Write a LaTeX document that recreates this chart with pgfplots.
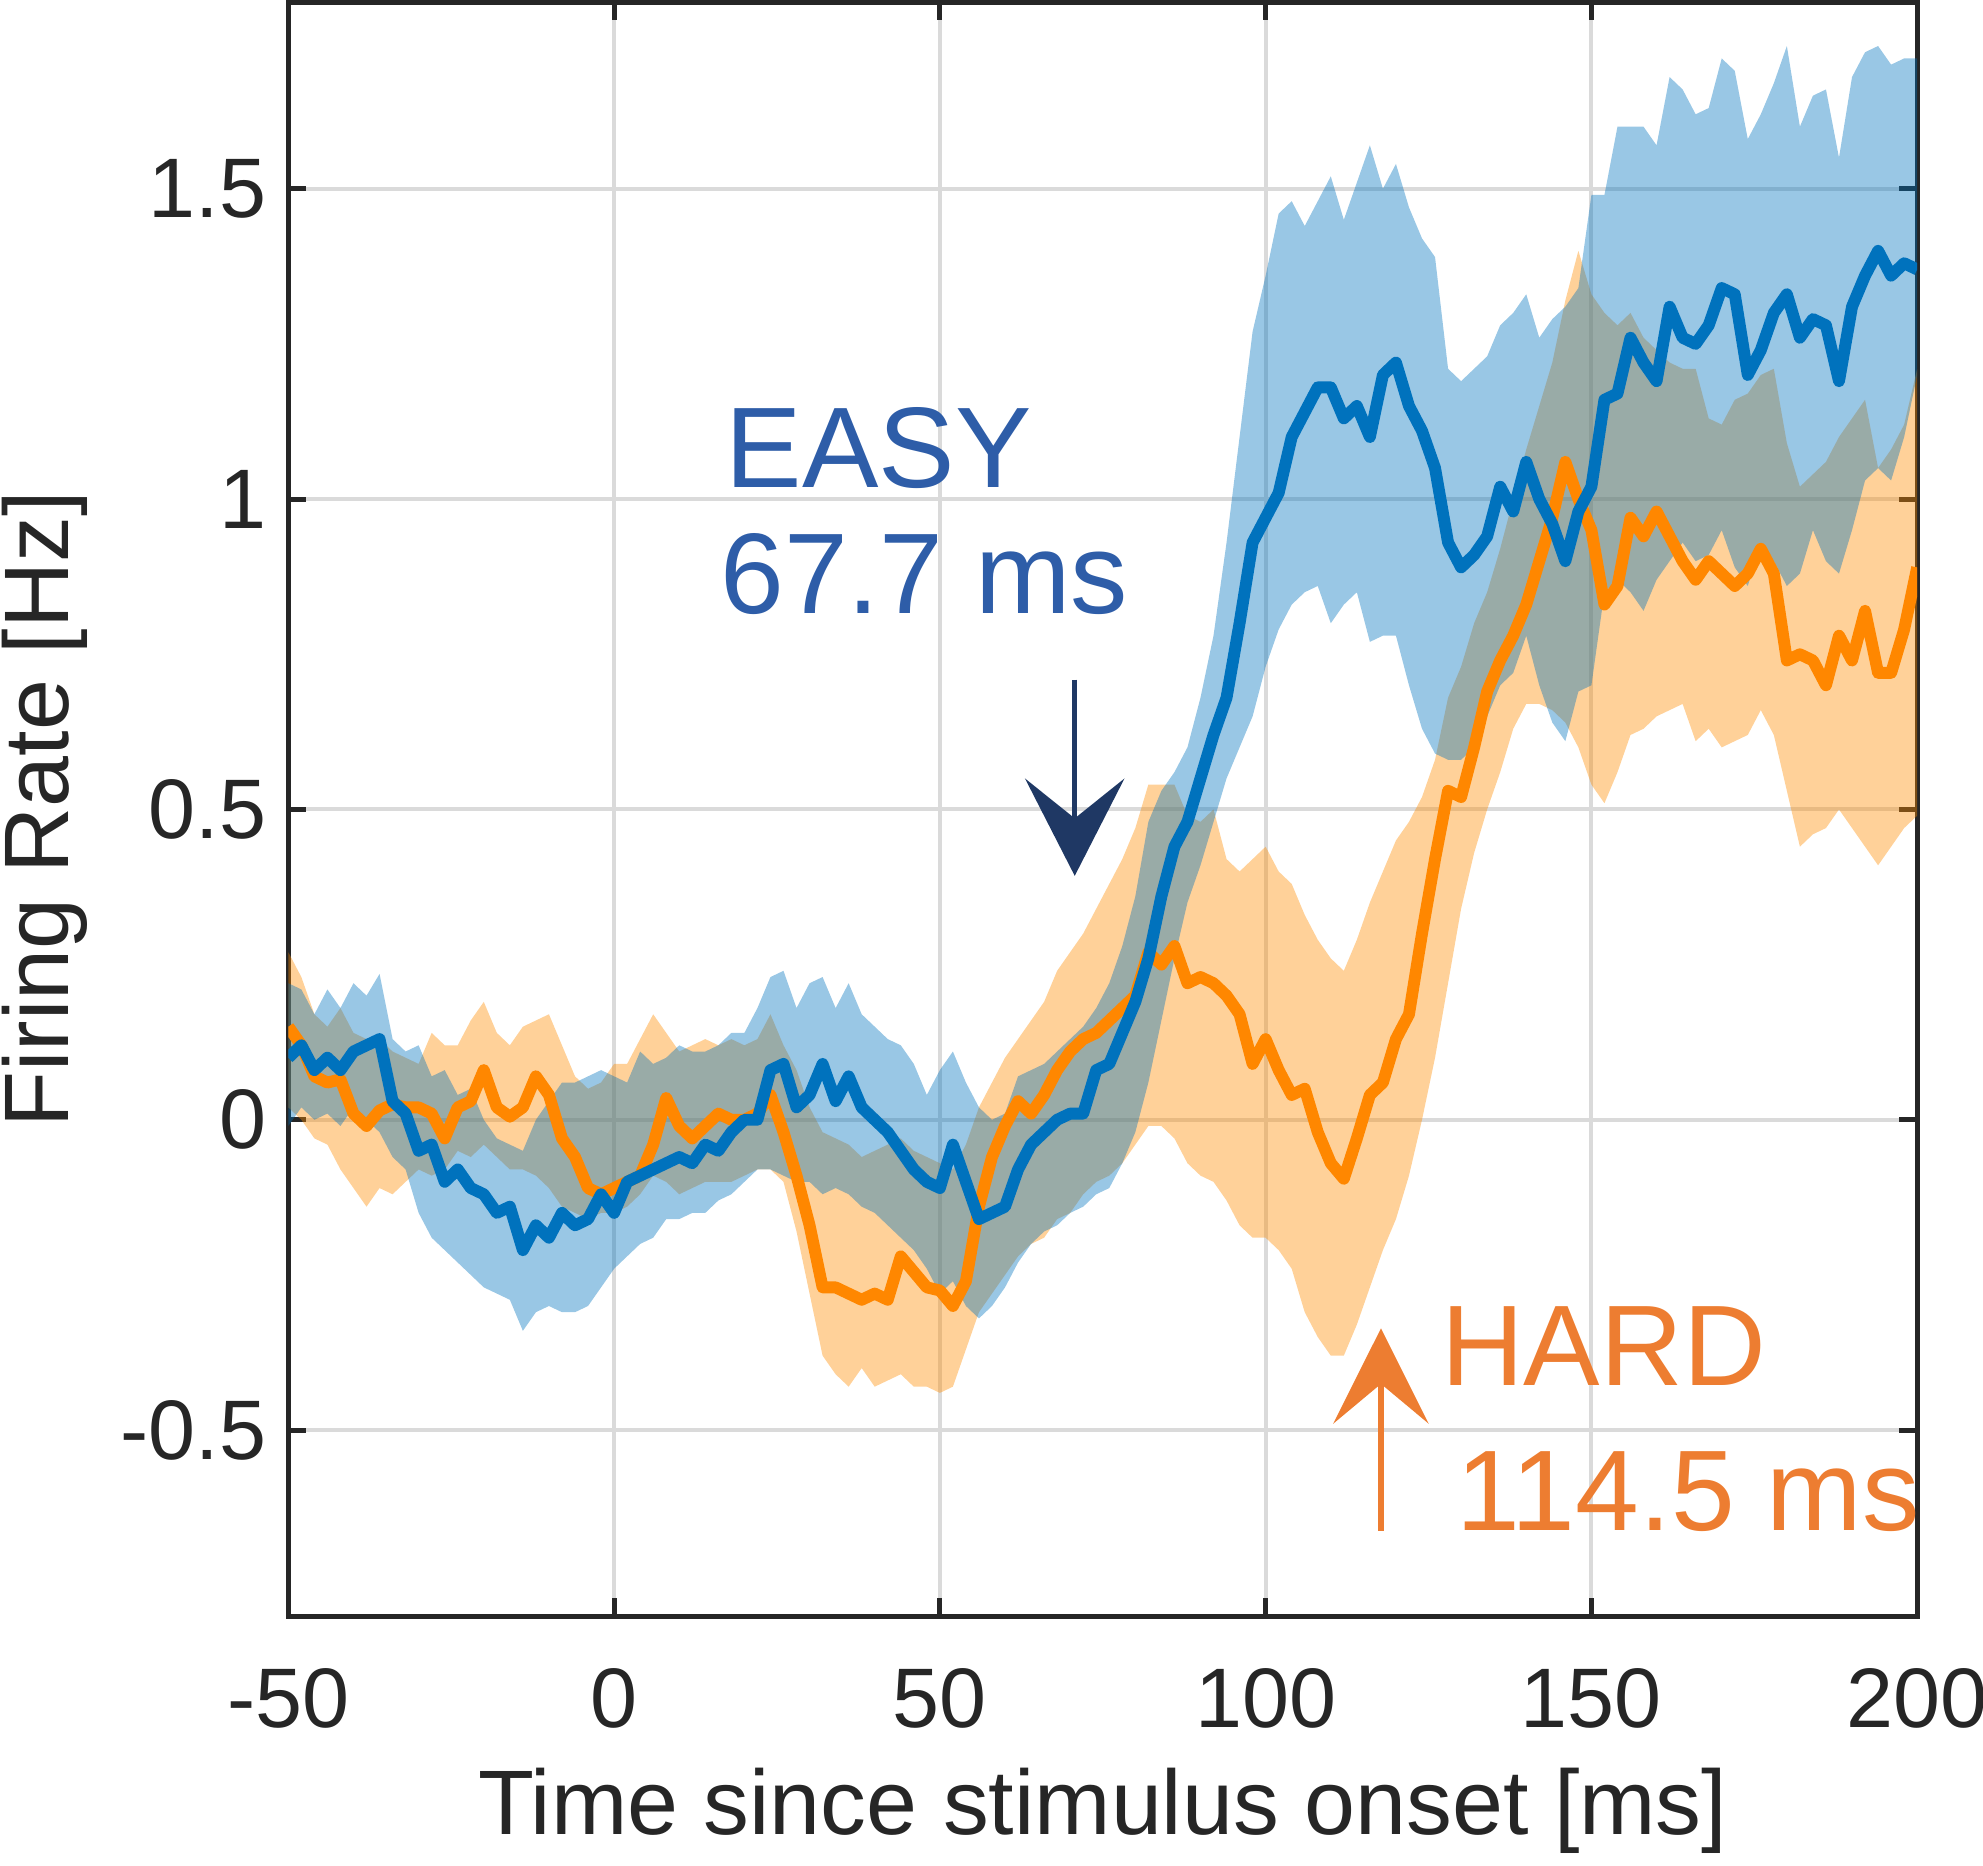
\documentclass[border=0pt]{standalone}
\usepackage{fontspec}
\setmainfont{Liberation Sans}
\usepackage{pgfplots}
\pgfplotsset{compat=1.18}
\usepackage{pgfplotstable}
\usepgfplotslibrary{fillbetween}
\usetikzlibrary{arrows.meta}
\definecolor{bline}{RGB}{0,114,189}
\definecolor{oline}{RGB}{255,135,0}
\definecolor{bfill}{RGB}{0,114,189}
\definecolor{ofill}{RGB}{255,140,0}
\definecolor{axgray}{RGB}{38,38,38}
\definecolor{gridgray}{RGB}{218,218,218}
\definecolor{easyblue}{RGB}{46,93,168}
\definecolor{navy}{RGB}{31,56,100}
\definecolor{hardorange}{RGB}{237,125,49}

\pgfplotstableread{
x bm bu bl om ou ol
-50 0.10 0.22 -0.01 0.15 0.27 0.02
-48 0.12 0.21 0.02 0.12 0.23 0.00
-46 0.08 0.17 0.00 0.07 0.17 -0.03
-44 0.10 0.21 0.01 0.06 0.15 -0.04
-42 0.08 0.18 -0.01 0.065 0.18 -0.08
-40 0.11 0.22 0.02 0.01 0.14 -0.11
-38 0.12 0.20 0.00 -0.01 0.13 -0.14
-36 0.13 0.235 -0.02 0.015 0.13 -0.11
-34 0.03 0.13 -0.06 0.025 0.11 -0.12
-32 0.01 0.11 -0.08 0.02 0.10 -0.10
-30 -0.05 0.12 -0.15 0.02 0.09 -0.08
-28 -0.04 0.07 -0.19 0.01 0.14 -0.09
-26 -0.10 0.08 -0.21 -0.03 0.12 -0.08
-24 -0.08 0.04 -0.23 0.02 0.12 -0.05
-22 -0.11 0.05 -0.25 0.03 0.16 -0.06
-20 -0.12 0.00 -0.27 0.08 0.19 -0.04
-18 -0.15 -0.03 -0.28 0.02 0.14 -0.06
-16 -0.14 -0.04 -0.29 0.005 0.12 -0.08
-14 -0.21 -0.05 -0.34 0.02 0.15 -0.08
-12 -0.17 0.00 -0.31 0.07 0.16 -0.09
-10 -0.19 0.03 -0.30 0.04 0.17 -0.11
-8 -0.15 0.06 -0.31 -0.03 0.12 -0.14
-6 -0.17 0.06 -0.31 -0.06 0.07 -0.15
-4 -0.16 0.07 -0.30 -0.11 0.05 -0.16
-2 -0.12 0.08 -0.27 -0.12 0.06 -0.15
0 -0.15 0.07 -0.24 -0.11 0.09 -0.15
2 -0.10 0.06 -0.22 -0.10 0.09 -0.14
4 -0.09 0.11 -0.20 -0.09 0.13 -0.12
6 -0.08 0.09 -0.19 -0.04 0.17 -0.09
8 -0.07 0.10 -0.16 0.035 0.14 -0.10
10 -0.06 0.12 -0.16 -0.01 0.11 -0.12
12 -0.07 0.11 -0.15 -0.03 0.12 -0.11
14 -0.04 0.11 -0.15 -0.01 0.13 -0.10
16 -0.05 0.12 -0.13 0.01 0.12 -0.10
18 -0.02 0.14 -0.12 0.00 0.13 -0.10
20 0.00 0.14 -0.10 0.00 0.12 -0.09
22 0.00 0.18 -0.08 0.01 0.13 -0.08
24 0.08 0.23 -0.08 0.04 0.17 -0.08
26 0.09 0.24 -0.09 -0.02 0.12 -0.10
28 0.02 0.18 -0.10 -0.09 0.08 -0.18
30 0.04 0.22 -0.10 -0.17 0.02 -0.28
32 0.09 0.23 -0.12 -0.27 -0.02 -0.38
34 0.03 0.18 -0.11 -0.27 -0.03 -0.41
36 0.07 0.22 -0.12 -0.28 -0.04 -0.43
38 0.02 0.17 -0.14 -0.29 -0.06 -0.40
40 0.00 0.15 -0.15 -0.28 -0.05 -0.43
42 -0.02 0.13 -0.17 -0.29 -0.04 -0.42
44 -0.05 0.12 -0.19 -0.22 -0.03 -0.41
46 -0.08 0.09 -0.21 -0.245 -0.05 -0.43
48 -0.10 0.04 -0.24 -0.27 -0.06 -0.43
50 -0.11 0.08 -0.28 -0.275 -0.07 -0.44
52 -0.04 0.11 -0.26 -0.30 -0.08 -0.43
54 -0.10 0.06 -0.30 -0.26 -0.04 -0.37
56 -0.16 0.02 -0.32 -0.14 0.02 -0.31
58 -0.15 0.00 -0.30 -0.06 0.06 -0.28
60 -0.14 0.01 -0.27 -0.01 0.10 -0.25
62 -0.08 0.07 -0.23 0.03 0.13 -0.22
64 -0.04 0.08 -0.20 0.01 0.16 -0.20
66 -0.02 0.09 -0.18 0.04 0.19 -0.19
68 0.00 0.11 -0.17 0.08 0.24 -0.16
70 0.01 0.13 -0.15 0.11 0.27 -0.15
72 0.01 0.15 -0.14 0.13 0.30 -0.12
74 0.08 0.18 -0.12 0.14 0.34 -0.10
76 0.09 0.22 -0.11 0.16 0.38 -0.09
78 0.14 0.28 -0.07 0.18 0.42 -0.07
80 0.19 0.36 -0.02 0.20 0.47 -0.04
82 0.26 0.48 0.06 0.27 0.54 -0.01
84 0.36 0.53 0.16 0.25 0.54 -0.01
86 0.44 0.56 0.26 0.28 0.54 -0.03
88 0.48 0.60 0.35 0.22 0.49 -0.07
90 0.55 0.68 0.41 0.23 0.48 -0.09
92 0.62 0.78 0.48 0.22 0.50 -0.10
94 0.68 0.93 0.55 0.20 0.42 -0.13
96 0.80 1.10 0.60 0.17 0.40 -0.17
98 0.93 1.27 0.65 0.09 0.42 -0.19
100 0.97 1.36 0.73 0.13 0.44 -0.19
102 1.01 1.46 0.79 0.08 0.40 -0.21
104 1.10 1.48 0.83 0.04 0.38 -0.24
106 1.14 1.44 0.85 0.05 0.33 -0.31
108 1.18 1.48 0.86 -0.02 0.29 -0.35
110 1.18 1.52 0.80 -0.07 0.26 -0.38
112 1.13 1.45 0.83 -0.095 0.24 -0.38
114 1.15 1.51 0.85 -0.03 0.29 -0.33
116 1.10 1.57 0.77 0.04 0.35 -0.27
118 1.20 1.50 0.78 0.06 0.40 -0.21
120 1.22 1.54 0.78 0.13 0.45 -0.16
122 1.15 1.47 0.70 0.17 0.48 -0.09
124 1.11 1.42 0.63 0.30 0.52 0.00
126 1.05 1.39 0.59 0.42 0.58 0.10
128 0.93 1.21 0.58 0.53 0.68 0.22
130 0.89 1.19 0.58 0.52 0.73 0.34
132 0.91 1.21 0.60 0.60 0.80 0.43
134 0.94 1.23 0.65 0.69 0.85 0.50
136 1.02 1.28 0.70 0.74 0.92 0.56
138 0.98 1.30 0.72 0.78 1.00 0.63
140 1.06 1.33 0.78 0.83 1.08 0.67
142 1.00 1.26 0.70 0.90 1.15 0.67
144 0.96 1.29 0.64 0.97 1.22 0.66
146 0.90 1.31 0.61 1.06 1.32 0.64
148 0.98 1.34 0.69 1.00 1.40 0.60
150 1.02 1.49 0.70 0.95 1.33 0.54
152 1.16 1.49 0.85 0.83 1.30 0.51
154 1.17 1.60 0.87 0.86 1.28 0.56
156 1.26 1.60 0.85 0.97 1.30 0.62
158 1.22 1.60 0.82 0.94 1.26 0.63
160 1.19 1.57 0.87 0.98 1.24 0.65
162 1.31 1.68 0.90 0.94 1.22 0.66
164 1.26 1.66 0.93 0.90 1.21 0.67
166 1.25 1.62 0.90 0.87 1.21 0.61
168 1.28 1.63 0.91 0.90 1.13 0.63
170 1.34 1.71 0.95 0.88 1.12 0.60
172 1.33 1.69 0.89 0.86 1.16 0.61
174 1.20 1.58 0.86 0.88 1.17 0.62
176 1.24 1.62 0.93 0.92 1.20 0.66
178 1.30 1.67 0.90 0.88 1.21 0.62
180 1.33 1.73 0.86 0.74 1.09 0.53
182 1.26 1.60 0.88 0.75 1.02 0.44
184 1.29 1.65 0.95 0.74 1.04 0.46
186 1.28 1.66 0.90 0.70 1.06 0.47
188 1.19 1.55 0.88 0.78 1.10 0.50
190 1.31 1.68 0.95 0.74 1.13 0.47
192 1.36 1.72 1.03 0.82 1.16 0.44
194 1.40 1.73 1.05 0.72 1.05 0.41
196 1.36 1.70 1.03 0.72 1.08 0.44
198 1.38 1.71 1.10 0.79 1.12 0.47
200 1.37 1.71 1.20 0.89 1.21 0.49
}\data

\begin{document}
\begin{tikzpicture}
\begin{axis}[
  width=410.7pt, height=406.9pt, scale only axis,
  xmin=-50, xmax=200, ymin=-0.8, ymax=1.8,
  xtick={-50,0,50,100,150,200},
  xticklabels={-50,0,50,100,150,200},
  ytick={-0.5,0,0.5,1,1.5},
  yticklabels={-0.5,0,0.5,1,1.5},
  grid=major,
  major grid style={draw=gridgray, line width=1pt},
  axis line style={draw=axgray, line width=1.3pt},
  tick style={draw=axgray, line width=1.3pt},
  major tick length=4.5pt,
  tick align=inside, xtick pos=both, ytick pos=both,
  ticklabel style={font=\fontsize{21.3}{25}\selectfont, text=axgray},
  xticklabel style={yshift=-9.5pt},
  yticklabel style={xshift=-2pt},
  xlabel={Time since stimulus onset [ms]},
  ylabel={Firing Rate [Hz]},
  label style={font=\fontsize{23.1}{27}\selectfont, text=axgray},
  xlabel style={at={(axis description cs:0.5,-0.1204)}, anchor=center},
  ylabel style={at={(axis description cs:-0.1495,0.5)}, anchor=center},
  clip mode=individual,
]
\addplot[name path=ou, draw=none, forget plot] table[x=x,y=ou]{\data};
\addplot[name path=ol, draw=none, forget plot] table[x=x,y=ol]{\data};
\addplot[fill=ofill, fill opacity=0.4, draw=none] fill between[of=ou and ol];
\addplot[oline, line width=3pt, line join=round] table[x=x,y=om]{\data};
\addplot[name path=bu, draw=none, forget plot] table[x=x,y=bu]{\data};
\addplot[name path=bl, draw=none, forget plot] table[x=x,y=bl]{\data};
\addplot[fill=bfill, fill opacity=0.4, draw=none] fill between[of=bu and bl];
\addplot[bline, line width=3pt, line join=round] table[x=x,y=bm]{\data};

\node[anchor=base west, inner sep=0pt, text=easyblue, font=\fontsize{28.9}{33}\selectfont] at (axis cs:17,1.019) {EASY};
\node[anchor=base west, inner sep=0pt, text=easyblue, font=\fontsize{28.9}{33}\selectfont] at (axis cs:16.2,0.815) {67.7 ms};
\draw[navy, line width=1.3pt, -{Stealth[length=24.5pt,width=25pt,inset=10pt]}] (axis cs:70.7,0.709) -- (axis cs:70.7,0.393);

\node[anchor=base west, inner sep=0pt, text=hardorange, font=\fontsize{28.9}{33}\selectfont] at (axis cs:126.8,-0.428) {HARD};
\node[anchor=base west, inner sep=0pt, text=hardorange, font=\fontsize{28.9}{33}\selectfont] at (axis cs:129.2,-0.662) {114.5 ms};
\draw[hardorange, line width=1.3pt, -{Stealth[length=24pt,width=24pt,inset=10pt]}] (axis cs:117.7,-0.662) -- (axis cs:117.7,-0.336);
\end{axis}
\pgfresetboundingbox
\path ([shift={(-72.7pt,-62.7pt)}]current axis.south west) rectangle ([shift={(16.6pt,0.65pt)}]current axis.north east);
\end{tikzpicture}
\end{document}
